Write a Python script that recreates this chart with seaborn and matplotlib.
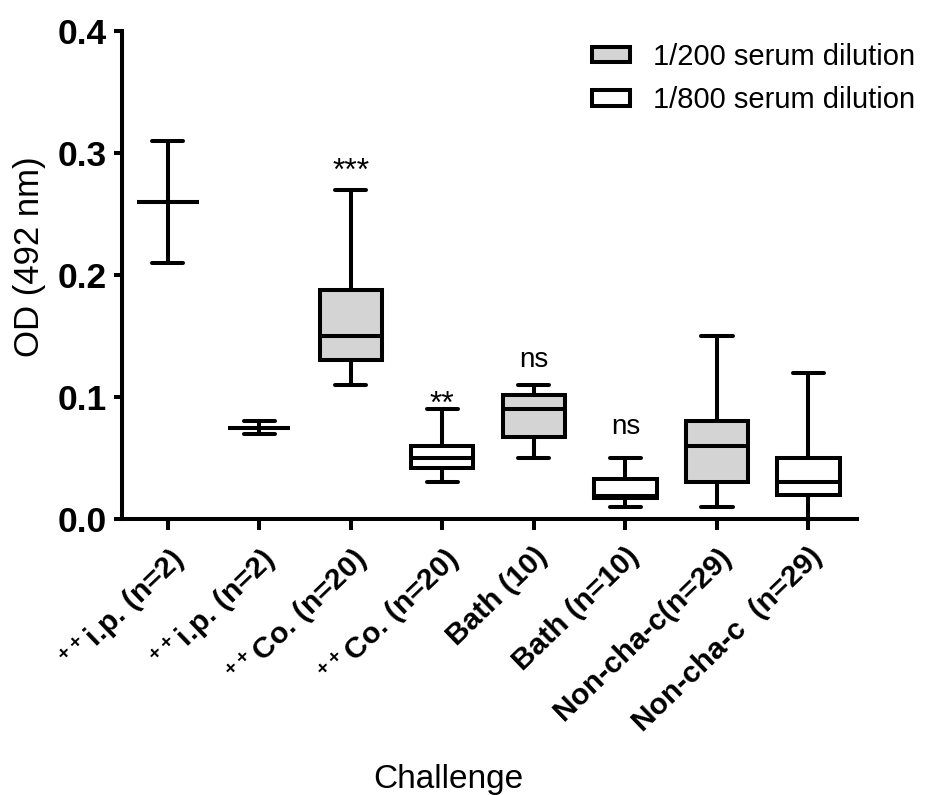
import matplotlib
matplotlib.use("Agg")
import matplotlib.pyplot as plt
import matplotlib.patches as mpatches
import seaborn as sns
import pandas as pd

# ---- data (five-number summaries) ----
tick_labels = [r"$^{\mathbf{++}}$i.p. (n=2)", r"$^{\mathbf{++}}$i.p. (n=2)",
               r"$^{\mathbf{++}}$Co. (n=20)", r"$^{\mathbf{++}}$Co. (n=20)",
               "Bath (10)", "Bath (n=10)", "Non-cha-c(n=29)", "Non-cha-c  (n=29)"]
dilution = ["1/200 serum dilution", "1/800 serum dilution",
            "1/200 serum dilution", "1/800 serum dilution",
            "1/200 serum dilution", "1/800 serum dilution",
            "1/200 serum dilution", "1/800 serum dilution"]
mins    = [0.21, 0.070, 0.110, 0.030, 0.050, 0.010, 0.010, 0.000]
q1s     = [0.26, 0.075, 0.130, 0.042, 0.067, 0.017, 0.030, 0.020]
medians = [0.26, 0.075, 0.150, 0.050, 0.090, 0.019, 0.060, 0.030]
q3s     = [0.26, 0.075, 0.188, 0.060, 0.102, 0.033, 0.080, 0.050]
maxs    = [0.31, 0.080, 0.270, 0.090, 0.110, 0.050, 0.150, 0.120]
sig_labels = ["", "", "***", "**", "ns", "ns", "", ""]
sig_y      = [None, None, 0.278, 0.0869, 0.1246, 0.0697, None, None]

rows = []
for i in range(len(tick_labels)):
    for v in (mins[i], q1s[i], medians[i], q3s[i], maxs[i]):
        rows.append({"group": i, "od": v, "dilution": dilution[i]})
df = pd.DataFrame(rows)

sns.set_theme(style="ticks")
plt.rcParams["font.family"] = ["Liberation Sans", "DejaVu Sans"]
plt.rcParams["mathtext.fontset"] = "custom"
plt.rcParams["mathtext.bf"] = "Liberation Sans:bold"
plt.rcParams["mathtext.rm"] = "Liberation Sans"
for k in ("text.color", "axes.labelcolor", "xtick.color", "ytick.color", "axes.edgecolor"):
    plt.rcParams[k] = "black"

fig = plt.figure(figsize=(9.25, 7.95), dpi=100)
ax = fig.add_axes([122/925, 1-519/795, (857-122)/925, (519-31)/795])

LW = 2.9
palette = {"1/200 serum dilution": "#d4d4d4", "1/800 serum dilution": "white"}
sns.boxplot(data=df, x="group", y="od", hue="dilution", dodge=False,
            whis=(0, 100), width=0.68, linewidth=LW, linecolor="black",
            palette=palette, showfliers=False, legend=False, ax=ax)

ax.set_xlim(-0.5, 7.53)
ax.set_ylim(0, 0.4)
ax.set_yticks([0.0, 0.1, 0.2, 0.3, 0.4])
ax.set_yticklabels(["0.0", "0.1", "0.2", "0.3", "0.4"], fontsize=25.5, fontweight="bold")
ax.set_xticks(range(len(tick_labels)))
ax.set_xticklabels(tick_labels, rotation=44, ha="right", va="top",
                   rotation_mode="anchor", fontsize=21.5, fontweight="bold")
ax.tick_params(axis="y", length=6, width=LW, pad=5, color="black")
ax.tick_params(axis="x", length=8, width=LW, pad=9, color="black")
for s in ("top", "right"):
    ax.spines[s].set_visible(False)
for s in ("left", "bottom"):
    ax.spines[s].set_linewidth(LW)
    ax.spines[s].set_color("black")

ax.set_xlabel("Challenge", fontsize=24)
ax.set_ylabel("OD (492 nm)", fontsize=25)
ax.xaxis.set_label_coords((448-122)/735, (519-764)/488)
ax.yaxis.set_label_coords((46-122)/735, (519-257)/488)

for i, (t, yv) in enumerate(zip(sig_labels, sig_y)):
    if t:
        ax.text(i, yv, t, ha="center", va="baseline", fontsize=23 if "*" in t else 20)

handles = [mpatches.Patch(facecolor=palette[k], edgecolor="black", linewidth=LW, label=k)
           for k in ["1/200 serum dilution", "1/800 serum dilution"]]
fig.legend(handles=handles, loc="upper left", bbox_to_anchor=(592/925, 1-43/795),
           bbox_transform=fig.transFigure, frameon=False, fontsize=21,
           handlelength=1.3, handleheight=0.45, handletextpad=0.8,
           labelspacing=0.52, borderpad=0, borderaxespad=0)

fig.savefig("out.png", dpi=100)
